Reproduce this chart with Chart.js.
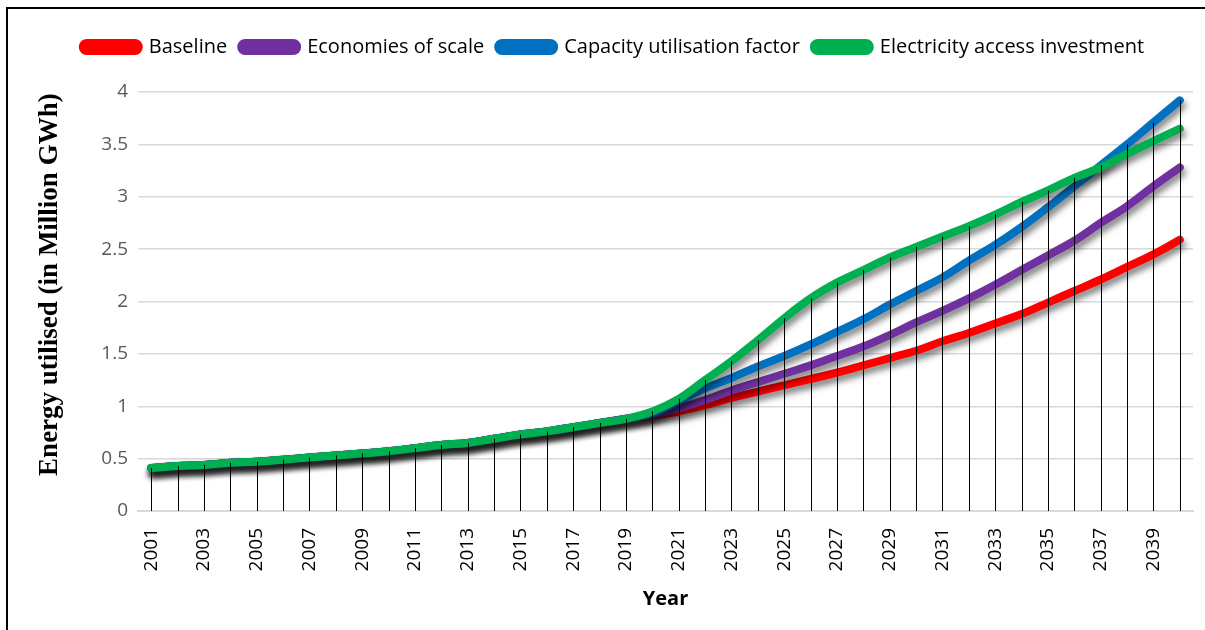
<!DOCTYPE html>
<html lang="en">
<head>
    <meta charset="UTF-8">
    <title>Energy utilised by scenario</title>
    <script src="https://cdn.jsdelivr.net/npm/chart.js"></script>
    <style>
        html, body {
            margin: 0;
            background: #fff;
            overflow: hidden;
        }
        .wrap {
            position: relative;
            width: 1205px;
            height: 630px;
            overflow: hidden;
            background: #fff;
        }
        .rule {
            position: absolute;
            background: #000;
        }
        .rule.top { left: 6px; top: 7px; width: 1199px; height: 2px; }
        .rule.left { left: 6px; top: 7px; width: 2px; height: 623px; }
    </style>
</head>
<body>
    <div class="wrap">
        <canvas id="energyChart" width="1205" height="630"></canvas>
        <div class="rule top"></div>
        <div class="rule left"></div>
    </div>

    <script>
        const years = [];
        for (let y = 2001; y <= 2040; y++) years.push(String(y));

        // 2001-2019 is shared by every scenario
        const history = [0.41, 0.43, 0.44, 0.46, 0.47, 0.49, 0.51, 0.53, 0.55, 0.57,
                         0.60, 0.63, 0.65, 0.69, 0.73, 0.76, 0.80, 0.84, 0.88];

        const baseline = history.concat([0.91, 0.95, 1.01, 1.08, 1.14, 1.20, 1.26, 1.32, 1.39, 1.46,
                                         1.53, 1.62, 1.70, 1.79, 1.88, 1.99, 2.10, 2.21, 2.33, 2.45, 2.59]);
        const economiesOfScale = history.concat([0.92, 0.98, 1.06, 1.15, 1.23, 1.31, 1.39, 1.48, 1.57, 1.68,
                                                 1.80, 1.91, 2.03, 2.16, 2.30, 2.44, 2.58, 2.75, 2.91, 3.10, 3.28]);
        const capacityFactor = history.concat([0.93, 1.05, 1.17, 1.27, 1.38, 1.48, 1.59, 1.71, 1.83, 1.97,
                                               2.10, 2.23, 2.39, 2.54, 2.71, 2.90, 3.10, 3.30, 3.50, 3.71, 3.92]);
        const accessInvestment = history.concat([0.95, 1.07, 1.25, 1.43, 1.63, 1.84, 2.03, 2.18, 2.30, 2.42,
                                                 2.52, 2.62, 2.72, 2.83, 2.95, 3.06, 3.18, 3.28, 3.41, 3.53, 3.65]);

        const yTicks = [0, 0.5, 1, 1.5, 2, 2.5, 3, 3.5, 4];

        // extra room between the legend and the plot
        const legendGap = {
            id: 'legendGap',
            beforeInit(chart) {
                const fit = chart.legend.fit;
                chart.legend.fit = function () {
                    fit.bind(chart.legend)();
                    this.height += 25;
                };
            }
        };

        // soft shadow under each line
        const lineShadow = {
            id: 'lineShadow',
            beforeDatasetDraw(chart) {
                const ctx = chart.ctx;
                ctx.save();
                ctx.shadowColor = 'rgba(0, 0, 0, 0.5)';
                ctx.shadowBlur = 6;
                ctx.shadowOffsetX = 2;
                ctx.shadowOffsetY = 5;
            },
            afterDatasetDraw(chart) {
                chart.ctx.restore();
            }
        };

        // thin black line from the highest point of each year down to zero
        const dropLines = {
            id: 'dropLines',
            afterDatasetsDraw(chart) {
                const ctx = chart.ctx;
                const xs = chart.scales.x, ys = chart.scales.y;
                const y0 = ys.getPixelForValue(0);
                ctx.save();
                ctx.strokeStyle = '#000';
                ctx.lineWidth = 1;
                years.forEach((yr, i) => {
                    const top = Math.max(...chart.data.datasets.map(d => d.data[i]));
                    const x = Math.round(xs.getPixelForValue(i)) + 0.5;
                    ctx.beginPath();
                    ctx.moveTo(x, ys.getPixelForValue(top));
                    ctx.lineTo(x, y0);
                    ctx.stroke();
                });
                ctx.restore();
            }
        };

        function series(label, data, color, order) {
            return {
                label: label,
                data: data,
                borderColor: color,
                backgroundColor: color,
                borderWidth: 8,
                borderCapStyle: 'round',
                borderJoinStyle: 'round',
                pointRadius: 0,
                tension: 0.4,
                clip: false,
                order: order
            };
        }

        new Chart(document.getElementById('energyChart'), {
            type: 'line',
            data: {
                labels: years,
                datasets: [
                    series('Baseline', baseline, '#ff0000', 3),
                    series('Economies of scale', economiesOfScale, '#7030a0', 2),
                    series('Capacity utilisation factor', capacityFactor, '#0070c0', 1),
                    series('Electricity access investment', accessInvestment, '#00b050', 0)
                ]
            },
            options: {
                responsive: false,
                animation: false,
                layout: { padding: { left: 34, right: 12, top: 23, bottom: 0 } },
                plugins: {
                    tooltip: { enabled: false },
                    legend: {
                        position: 'top',
                        labels: {
                            boxWidth: 56,
                            boxHeight: 8,
                            useBorderRadius: true,
                            borderRadius: 4,
                            padding: 14,
                            color: '#000',
                            font: { family: 'Open Sans', size: 20 },
                            sort: (a, b) => a.datasetIndex - b.datasetIndex
                        }
                    }
                },
                scales: {
                    x: {
                        offset: true,
                        grid: { display: false, drawTicks: false },
                        border: { display: true, color: '#d9d9d9', width: 2 },
                        ticks: {
                            autoSkip: false,
                            minRotation: 90,
                            maxRotation: 90,
                            padding: 17,
                            color: '#000',
                            font: { family: 'Open Sans', size: 19 },
                            callback: (v, i) => (i % 2 === 0 ? years[i] : '')
                        },
                        title: {
                            display: true,
                            text: 'Year',
                            color: '#000',
                            font: { family: 'Open Sans', size: 20, weight: 'bold' },
                            padding: { top: 0, bottom: 19 }
                        },
                        afterFit: (scale) => {
                            scale.height = 119;
                            scale.paddingLeft = 0;
                            scale.paddingRight = 0;
                        }
                    },
                    y: {
                        min: 0,
                        max: 4,
                        afterBuildTicks: (scale) => { scale.ticks = yTicks.map(v => ({ value: v })); },
                        grid: { color: '#d9d9d9', lineWidth: 1.5, drawTicks: false },
                        border: { display: false },
                        ticks: {
                            padding: 10,
                            color: '#595959',
                            font: { family: 'Open Sans', size: 19 },
                            callback: (v) => String(v)
                        },
                        title: {
                            display: true,
                            // leading spaces lift the rotated text slightly above the axis centre
                            text: '\u00a0\u00a0\u00a0\u00a0\u00a0Energy utilised (in Million GWh)',
                            color: '#000',
                            font: { family: 'Liberation Serif', size: 27, weight: 'bold' },
                            padding: { top: 0, bottom: 0 }
                        },
                        afterFit: (scale) => { scale.width = 104; }
                    }
                }
            },
            plugins: [legendGap, lineShadow, dropLines]
        });
    </script>
</body>
</html>
